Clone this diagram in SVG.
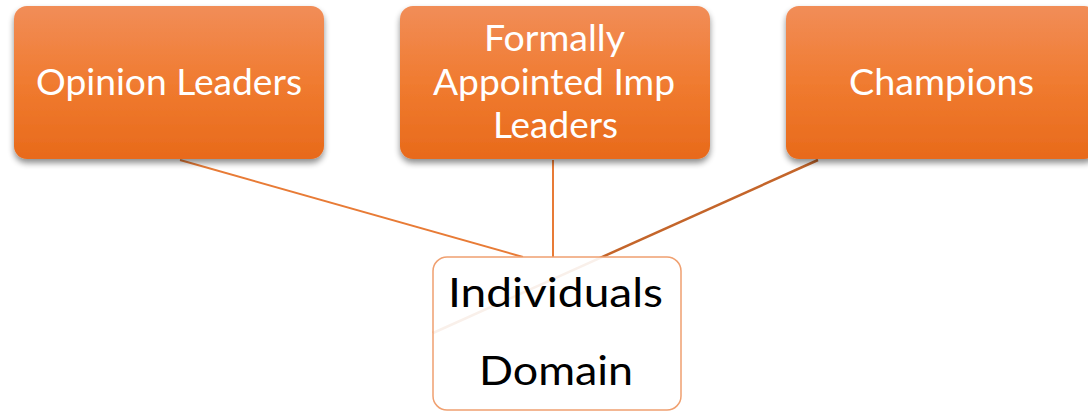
<svg xmlns="http://www.w3.org/2000/svg" width="1088" height="412" viewBox="0 0 1088 412">
<defs>
<linearGradient id="og" x1="0" y1="0" x2="0" y2="1">
<stop offset="0" stop-color="#F18D58"/>
<stop offset="0.5" stop-color="#F07B30"/>
<stop offset="1" stop-color="#E86A1B"/>
</linearGradient>
<filter id="sh" x="-10%" y="-10%" width="120%" height="130%">
<feGaussianBlur in="SourceAlpha" stdDeviation="3"/>
<feOffset dx="0" dy="4" result="b"/>
<feComponentTransfer><feFuncA type="linear" slope="0.45"/></feComponentTransfer>
<feMerge><feMergeNode/><feMergeNode in="SourceGraphic"/></feMerge>
</filter>
</defs>
<style>
.top{fill:url(#og);filter:url(#sh)}
.wt{font-family:Lato,"Open Sans",sans-serif;font-size:36px;fill:#fff;text-anchor:middle}
.bt{font-family:Lato,"Open Sans",sans-serif;font-size:40px;fill:#000;text-anchor:middle}
.ln{stroke:#E87B36;stroke-width:2;fill:none}
</style>
<rect width="1088" height="412" fill="#fff"/>
<g id="connectors">
<line class="ln" x1="180" y1="160" x2="523" y2="257"/>
<line class="ln" x1="553" y1="160" x2="553" y2="257"/>
<line x1="818" y1="160" x2="433" y2="333" stroke="#C4652A" stroke-width="2.5"/>
</g>
<g id="opinion-leaders">
<rect class="top" x="14" y="6" width="310" height="153" rx="13"/>
<text class="wt" x="169" y="95" textLength="266" lengthAdjust="spacingAndGlyphs">Opinion Leaders</text>
</g>
<g id="formally-appointed">
<rect class="top" x="400" y="6" width="310" height="153" rx="13"/>
<text class="wt" x="554.5" y="51" textLength="141" lengthAdjust="spacingAndGlyphs">Formally</text>
<text class="wt" x="554" y="95" textLength="242" lengthAdjust="spacingAndGlyphs">Appointed Imp</text>
<text class="wt" x="555.5" y="138" textLength="125" lengthAdjust="spacingAndGlyphs">Leaders</text>
</g>
<g id="champions">
<rect class="top" x="786" y="6" width="311" height="153" rx="13"/>
<text class="wt" x="941.5" y="95" textLength="185" lengthAdjust="spacingAndGlyphs">Champions</text>
</g>
<g id="individuals-domain">
<rect x="433" y="257" width="248" height="153" rx="14" fill="#fff" fill-opacity="0.9" stroke="#F0A070" stroke-width="1.5"/>
<text class="bt" x="555.5" y="307" textLength="215" lengthAdjust="spacingAndGlyphs">Individuals</text>
<text class="bt" x="556" y="385" textLength="154" lengthAdjust="spacingAndGlyphs">Domain</text>
</g>
</svg>
